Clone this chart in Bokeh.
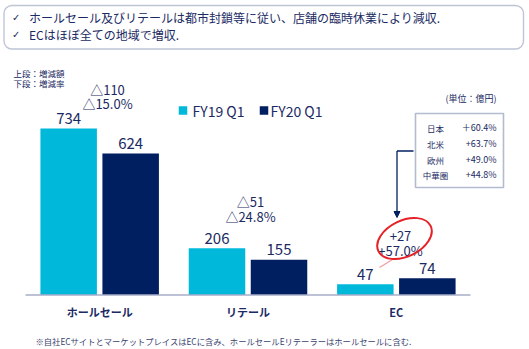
from bokeh.plotting import figure
from bokeh.models import Range1d, BoxAnnotation, Arrow, NormalHead
from bokeh.core.properties import value
from bokeh.embed import file_html
from bokeh.resources import INLINE

# ---------------- data ----------------
categories = ["ホールセール", "リテール", "EC"]
series = ["FY19 Q1", "FY20 Q1"]
fy19 = [734, 206, 47]
fy20 = [624, 155, 74]
delta_amount = ["△110", "△51", "+27"]
delta_rate = ["△15.0%", "△24.8%", "+57.0%"]
regions = ["日本", "北米", "欧州", "中華圏"]
region_growth = ["＋60.4%", "+63.7%", "+49.0%", "+44.8%"]
headline = ["ホールセール及びリテールは都市封鎖等に従い、店舗の臨時休業により減収.",
            "ECはほぼ全ての地域で増収."]
footnote = "※自社ECサイトとマーケットプレイスはECに含み、ホールセールEリテーラーはホールセールに含む."
unit_label = "(単位：億円)"
row_note = ["上段：増減額", "下段：増減率"]

# ---------------- layout ----------------
W, H = 529, 349
LEFT, RIGHT, BASE = 25.0, 470.0, 294.5
K = 166.5 / 734.0              # px per 億円
PX = (RIGHT - LEFT) / len(categories)  # px per category

def sx(px):
    return (px - LEFT) / PX

def sy(py):
    return (BASE - py) / K

NAVY = "#1B2A63"
C19 = "#00B9DA"
C20 = "#001F60"
FONT = value("Noto Sans CJK JP")

p = figure(width=W, height=H, output_backend="svg", toolbar_location=None,
           x_range=Range1d(sx(0), sx(W)), y_range=Range1d(sy(H), sy(0)),
           min_border=0, min_border_left=0, min_border_right=0,
           min_border_top=0, min_border_bottom=0)
p.axis.visible = False
p.grid.visible = False
p.outline_line_color = None
p.background_fill_color = "white"
p.border_fill_color = "white"

# bars
off = 31.0 / PX
bw = 56.5 / PX
centers = [i + 0.5 for i in range(len(categories))]
x19 = [c - off for c in centers]
x20 = [c + off for c in centers]
p.vbar(x=x19, top=fy19, bottom=0, width=bw, fill_color=C19, line_color=None)
p.vbar(x=x20, top=fy20, bottom=0, width=bw, fill_color=C20, line_color=None)

# baseline axis
p.segment(x0=[0], y0=[0], x1=[len(categories)], y1=[0], line_color="#A9AEC8", line_width=1.5)

# value labels
p.text(x=x19, y=fy19, text=[str(v) for v in fy19], text_align="center",
       text_baseline="alphabetic", y_offset=-10, text_font=FONT,
       text_font_size="15px", text_color=NAVY)
p.text(x=x20, y=fy20, text=[str(v) for v in fy20], text_align="center",
       text_baseline="alphabetic", y_offset=-10, text_font=FONT,
       text_font_size="15px", text_color=NAVY)

# category labels
p.text(x=centers, y=[sy(311.5)] * 3, text=categories, text_align="center",
       text_baseline="middle", text_font=FONT, text_font_size="11px",
       text_font_style="bold", text_color=NAVY)

# delta labels
dx = [sx(107), sx(250), sx(400)]
p.text(x=dx, y=[sy(89), sy(201), sy(235)], text=delta_amount, text_align="center",
       text_baseline="alphabetic", text_font=FONT, text_font_size="13px", text_color=NAVY)
p.text(x=dx, y=[sy(103), sy(216), sy(250)], text=delta_rate, text_align="center",
       text_baseline="alphabetic", text_font=FONT, text_font_size="13px", text_color=NAVY)

# red circle
p.ellipse(x=[sx(404)], y=[sy(238)], width=[58 / PX], height=[36 / K], angle=0.45,
          fill_alpha=0, line_color="#E52228", line_width=2)
p.segment(x0=[sx(392)], y0=[sy(259)], x1=[sx(379)], y1=[sy(267)],
          line_color="#E52228", line_alpha=0.45, line_width=1.2)

# legend
p.rect(x=[sx(182.5), sx(263.5)], y=[sy(110), sy(110)], width=[8.5 / PX] * 2,
       height=[8.5 / K] * 2, fill_color=[C19, C20], line_color=None)
p.text(x=[sx(192), sx(270)], y=[sy(110)] * 2, text=series, text_align="left",
       text_baseline="middle", text_font=FONT, text_font_size="14px", text_color=NAVY)

# row note
p.text(x=[sx(13)] * 2, y=[sy(72), sy(82)], text=row_note, text_align="left",
       text_baseline="middle", text_font=FONT, text_font_size="8.5px", text_color=NAVY)

# unit
p.text(x=[sx(496)], y=[sy(98)], text=[unit_label], text_align="right",
       text_baseline="middle", text_font=FONT, text_font_size="9px", text_color=NAVY)

# region table
p.add_layout(BoxAnnotation(left=sx(415), right=sx(503), top=sy(113), bottom=sy(187),
                           fill_alpha=0, line_color=C20, line_width=1.6))
ry = [sy(127), sy(143), sy(159), sy(174)]
p.text(x=[sx(435)] * 4, y=ry, text=regions, text_align="center", text_baseline="middle",
       text_font=FONT, text_font_size="8.5px", text_color=NAVY)
p.text(x=[sx(496)] * 4, y=ry, text=region_growth, text_align="right", text_baseline="middle",
       text_font=FONT, text_font_size="9px", text_color=NAVY)

# connector arrow
p.segment(x0=[sx(413)], y0=[sy(150.5)], x1=[sx(396.5)], y1=[sy(150.5)],
          line_color=C20, line_width=1.3)
p.add_layout(Arrow(x_start=sx(396.5), y_start=sy(150.5), x_end=sx(396.5), y_end=sy(217),
                   line_color=C20, line_width=1.3,
                   end=NormalHead(size=6, fill_color=C20, line_color=C20)))

# headline box
p.add_layout(BoxAnnotation(left=sx(3.5), right=sx(523), top=sy(5), bottom=sy(48.5),
                           fill_alpha=0, line_color="#2A3A78", line_width=1.4,
                           border_radius=8))
p.text(x=[sx(11.5)] * 2, y=[sy(16.5), sy(33.5)], text=["✓", "✓"], text_align="left",
       text_baseline="middle", text_font=value("DejaVu Sans"), text_font_size="10px",
       text_color=NAVY)
p.text(x=[sx(28.5)] * 2, y=[sy(16.5), sy(33.5)], text=headline, text_align="left",
       text_baseline="middle", text_font=FONT, text_font_size="12px", text_color=NAVY)

# footnote
p.text(x=[sx(35)], y=[sy(340.5)], text=[footnote], text_align="left",
       text_baseline="middle", text_font=FONT, text_font_size="8.3px", text_color="#3A4470")

open("out.html", "w").write(file_html(p, INLINE))
